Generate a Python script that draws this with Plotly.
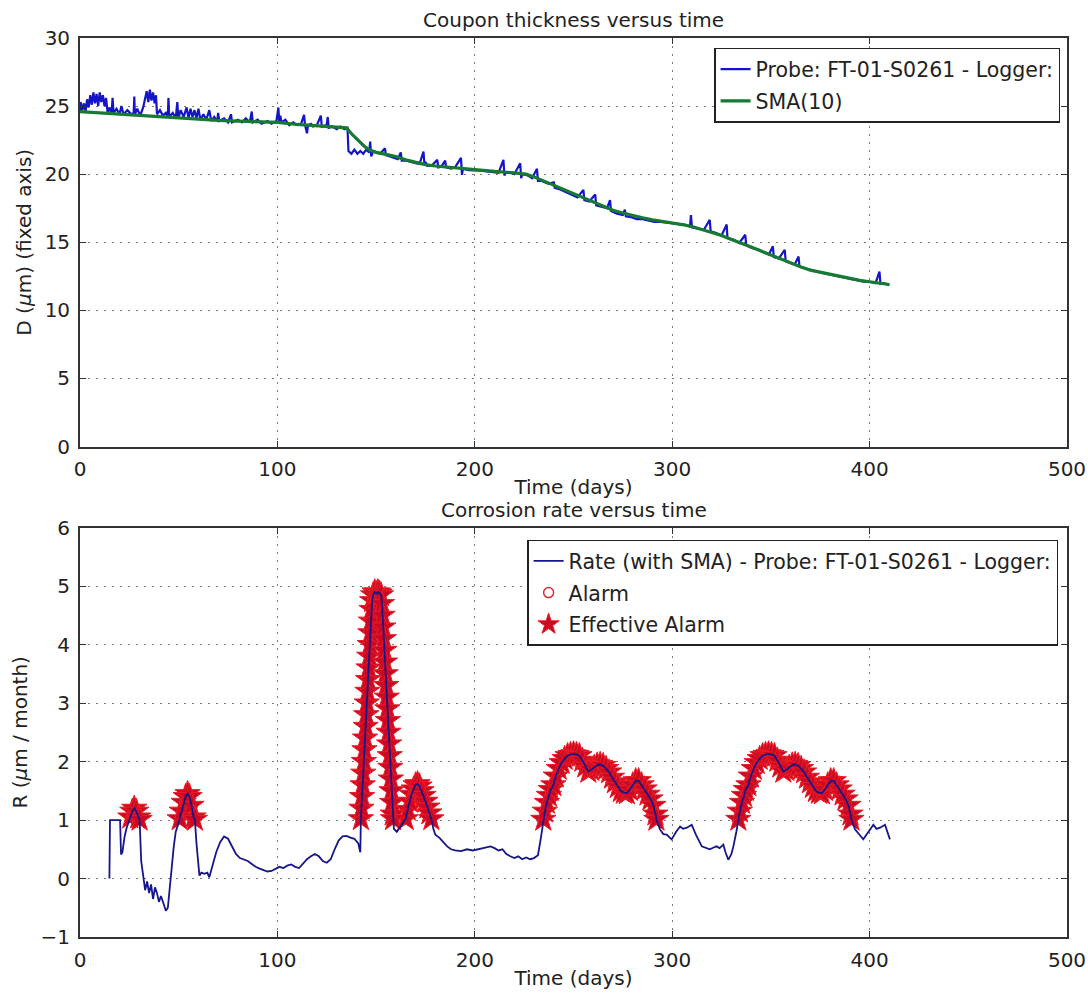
import plotly.graph_objects as go

# ---------------- data ----------------
probe_days = [0, 0.3, 1.2, 2.0, 2.8, 3.6, 4.4, 5.2, 6.0, 6.8, 7.6, 8.4, 9.2, 10.0, 10.8, 11.6,
              12.4, 13.2, 14.0, 15.0, 16.0, 16.5, 17.0, 18.5, 20.0, 21.0, 22.0, 24.0, 26.0,
              27.2, 27.5, 27.8, 29.0, 30.5, 32.0, 33.0, 33.8, 34.6, 35.4, 36.2, 37.0, 37.8,
              38.5, 39.0, 40.5, 42.0, 43.5, 44.5, 44.8, 45.2, 47.0, 48.5, 49.3, 49.8, 51.0,
              52.5, 54.0, 55.0, 56.0, 57.0, 58.0, 59.0, 60.0, 61.0, 62.5, 64.0, 65.5, 66.5,
              68.0, 69.5, 70.0, 70.5, 73.0, 75.0, 76.5, 77.0, 80.0, 82.0, 84.0, 86.0, 87.0,
              87.5, 90.0, 92.0, 95.0, 97.0, 99.5, 100.5, 101.0, 101.5, 102.0, 104.0, 106.0,
              108.0, 110.0, 112.0, 113.5, 114.0, 115.0, 115.5, 117.0, 118.0, 120.0, 122.0,
              122.5, 125.0, 125.5, 126.0, 128.0, 130.0, 132.0, 134.0, 135.5, 136.0, 137.5,
              139.0, 140.5, 142.0, 143.5, 145.0, 146.5, 147.0, 147.5, 148.5, 150.0, 152.0,
              154.5, 155.0, 157.0, 159.0, 161.0, 162.5, 163.0, 165.0, 167.0, 170.0, 172.0,
              174.0, 174.5, 175.0, 176.0, 178.0, 181.0, 181.5, 183.0, 185.0, 185.5, 188.0,
              190.0, 193.0, 193.5, 194.0, 197.0, 200.0, 203.0, 206.0, 209.0, 212.0, 214.5,
              215.0, 215.5, 218.0, 220.0, 223.0, 223.5, 224.0, 227.0, 229.0, 231.5, 232.0,
              234.0, 237.0, 240.0, 240.5, 243.0, 246.0, 249.0, 252.0, 255.0, 255.5, 258.0,
              261.0, 261.5, 264.0, 267.0, 268.5, 269.0, 272.0, 275.0, 276.0, 276.5, 279.0,
              282.0, 285.0, 288.0, 291.0, 294.0, 297.0, 300.0, 303.0, 306.0, 309.0, 309.5,
              310.0, 313.0, 316.0, 319.0, 319.5, 322.0, 325.0, 327.6, 328.0, 331.0, 334.0,
              337.0, 337.5, 340.0, 343.0, 346.0, 349.0, 351.0, 351.5, 354.0, 357.0, 357.5,
              360.0, 362.0, 364.0, 364.5, 367.0, 370.0, 373.0, 376.0, 379.0, 382.0, 385.0,
              388.0, 391.0, 394.0, 397.0, 400.0, 403.0, 405.0, 405.5, 407.0, 410.0]
probe_vals = [24.6, 25.3, 24.7, 25.2, 24.6, 25.5, 24.9, 25.8, 25.1, 26.0, 25.2, 25.9, 25.0, 26.0,
              25.3, 25.8, 25.0, 25.6, 24.5, 24.9, 24.4, 25.6, 24.5, 24.8, 24.4, 25.0, 24.4,
              24.7, 24.4, 24.5, 25.7, 24.4, 24.8, 24.3, 24.9, 25.6, 26.1, 25.3, 26.2, 25.4,
              26.0, 25.2, 25.8, 24.4, 24.7, 24.3, 24.5, 24.2, 25.6, 24.2, 24.5, 24.1, 25.3,
              24.1, 24.7, 24.2, 24.9, 24.1, 24.8, 24.2, 24.7, 24.1, 24.8, 24.0, 24.4, 24.0,
              24.7, 23.9, 24.2, 23.9, 24.5, 23.9, 24.1, 23.8, 24.4, 23.8, 24.0, 23.8, 24.1,
              23.8, 24.6, 23.8, 24.0, 23.7, 23.9, 23.7, 23.9, 24.9, 23.7, 24.3, 23.8, 24.0,
              23.6, 23.8, 23.6, 23.7, 24.35, 23.6, 23.0, 23.6, 23.7, 23.5, 23.6, 24.3, 23.5,
              23.6, 24.2, 23.4, 23.5, 23.3, 23.5, 23.3, 23.4, 21.7, 21.5, 21.8, 21.5, 21.7,
              21.5, 21.8, 21.6, 22.4, 21.3, 21.7, 21.6, 21.5, 21.9, 21.4, 21.3, 21.2, 21.1,
              21.6, 21.0, 21.0, 20.9, 20.8, 20.75, 21.66, 20.7, 20.9, 20.6, 20.6, 21.05, 20.5,
              20.55, 21.0, 20.5, 20.4, 20.5, 21.2, 19.95, 20.4, 20.3, 20.3, 20.25, 20.2,
              20.15, 20.1, 21.05, 19.9, 20.1, 20.1, 20.0, 20.8, 19.7, 20.0, 19.9, 19.7, 20.4,
              19.5, 19.5, 19.3, 19.4, 19.0, 18.9, 18.7, 18.5, 18.3, 18.85, 18.1, 18.0, 18.5,
              17.7, 17.6, 17.5, 18.1, 17.3, 17.1, 17.0, 17.4, 16.9, 16.85, 16.7, 16.7, 16.6,
              16.5, 16.5, 16.45, 16.4, 16.3, 16.3, 16.15, 17.0, 16.1, 16.0, 15.9, 16.65, 15.8,
              15.7, 15.5, 16.3, 15.3, 15.2, 14.95, 15.55, 14.8, 14.6, 14.5, 14.3, 14.1, 14.7,
              13.9, 13.8, 14.45, 13.6, 13.45, 13.35, 13.95, 13.2, 13.1, 12.95, 12.85, 12.75,
              12.65, 12.55, 12.45, 12.4, 12.3, 12.2, 12.1, 12.1, 12.0, 12.85, 11.95, 12.0, 11.85]

sma_days = [0, 10, 20, 30, 40, 50, 60, 70, 80, 90, 100, 110, 120, 130, 135, 138, 141, 144, 147,
            150, 155, 160, 165, 170, 175, 180, 190, 200, 210, 220, 226, 230, 235, 240, 245,
            250, 255, 260, 265, 270, 275, 280, 285, 290, 295, 300, 305, 310, 315, 320, 325,
            330, 335, 340, 345, 350, 355, 360, 365, 370, 375, 380, 385, 390, 395, 400, 405, 410]
sma_vals = [24.6, 24.5, 24.4, 24.35, 24.25, 24.15, 24.05, 23.95, 23.9, 23.85, 23.8, 23.65, 23.55,
            23.45, 23.4, 22.9, 22.45, 22.05, 21.75, 21.6, 21.45, 21.3, 21.05, 20.85, 20.7,
            20.6, 20.45, 20.3, 20.2, 20.1, 20.0, 19.8, 19.5, 19.2, 18.9, 18.6, 18.25, 17.95,
            17.65, 17.35, 17.15, 16.95, 16.8, 16.65, 16.55, 16.45, 16.3, 16.15, 15.95, 15.75,
            15.5, 15.2, 14.95, 14.65, 14.35, 14.05, 13.75, 13.45, 13.2, 12.95, 12.8, 12.6,
            12.45, 12.35, 12.2, 12.1, 12.0, 11.9]

rate_days = [14.9, 15.2, 20.3, 20.8, 21.5, 22.5, 23.5, 24.5, 25.5, 26.5, 27.5, 28.5, 29.5, 30.2,
             31.0, 32.0, 33.0, 34.0, 35.0, 36.0, 37.0, 38.0, 39.0, 40.0, 41.0, 42.5, 43.5,
             44.5, 45.5, 46.5, 47.5, 48.5, 49.5, 50.5, 51.5, 52.5, 53.5, 54.5, 55.5, 56.5,
             57.5, 58.2, 59.0, 60.5, 61.5, 63.0, 64.5, 65.5, 67.0, 69.0, 71.0, 73.0, 75.0,
             77.0, 79.0, 81.0, 83.0, 85.0, 87.0, 89.0, 91.0, 93.0, 95.0, 97.0, 99.0, 101.0,
             103.0, 105.0, 107.0, 109.0, 111.0, 113.0, 115.0, 117.0, 119.0, 121.0, 123.0,
             125.0, 127.0, 129.0, 131.0, 133.0, 135.0, 137.0, 139.0, 141.0, 142.0,
             142.3, 142.6, 142.9, 143.2, 143.5, 143.8, 144.1, 144.4, 144.7, 145.0, 145.3,
             145.6, 145.9, 146.2, 146.5, 146.8, 147.1, 147.4, 147.7, 148.0, 148.5, 149.3,
             150.1, 150.9, 151.7, 152.5, 153.0, 153.3, 153.6, 153.9, 154.2, 154.5, 154.8,
             155.1, 155.4, 155.7, 156.0, 156.3, 156.6, 156.9, 157.2, 157.5, 157.8, 158.1,
             158.4, 158.6, 159.0, 160.5, 162.0, 164.0, 165.0, 166.0, 167.0, 168.0, 169.0, 170.0,
             171.0, 172.0, 173.0, 174.0, 175.0, 176.0, 177.0, 178.0, 179.0, 180.0, 182.0,
             184.0, 186.0, 188.0, 190.0, 193.0, 196.0, 199.0, 202.0, 205.0, 208.0, 210.0,
             212.0, 214.0, 216.0, 218.0, 220.0, 222.0, 224.0, 226.0, 228.0, 230.0, 232.0,
             233.5, 234.7, 235.5, 236.5, 237.5, 238.5, 239.8, 241.0, 242.5, 244.0, 245.5,
             247.0, 248.5, 250.0, 251.5, 253.0, 254.5, 256.0, 257.5, 259.0, 260.5, 262.0,
             263.5, 265.0, 266.5, 268.0, 269.5, 271.0, 272.5, 274.0, 275.5, 277.0, 278.5,
             280.0, 281.5, 283.0, 284.5, 286.0, 287.5, 289.0, 290.5, 291.5, 292.0, 293.8,
             295.5, 297.2, 299.7, 302.0, 304.0, 305.5, 307.4, 309.9, 312.0, 315.0, 317.0,
             319.0, 321.0, 322.5, 324.0, 325.9, 327.0, 328.4, 330.0, 331.0, 332.5, 333.5,
             334.3, 335.3, 336.3, 337.3, 338.6, 339.8, 341.3, 342.8, 344.3, 345.8, 347.3,
             348.8, 350.3, 351.8, 353.3, 354.8, 356.3, 357.8, 359.3, 360.8, 362.3, 363.8,
             365.3, 366.8, 368.3, 369.8, 371.3, 372.8, 374.3, 375.8, 377.3, 378.8, 380.3,
             381.8, 383.3, 384.8, 386.3, 387.8, 389.3, 390.3, 390.8, 392.6, 394.5, 396.8,
             399.0, 401.9, 403.5, 405.3, 407.8, 410.3]
rate_vals = [0.0, 1.0, 1.0, 0.41, 0.45, 0.7, 0.85, 0.95, 1.05, 1.15, 1.2, 1.15, 1.05, 1.01,
             0.3, 0.05, -0.2, -0.05, -0.25, -0.1, -0.35, -0.15, -0.25, -0.4, -0.3, -0.45,
             -0.55, -0.5, -0.2, 0.2, 0.55, 0.8, 0.9, 1.02, 1.15, 1.3, 1.4, 1.45, 1.4, 1.25,
             1.05, 1.01, 0.6, 0.05, 0.1, 0.08, 0.1, 0.02, 0.2, 0.45, 0.62, 0.72, 0.68, 0.55,
             0.42, 0.35, 0.33, 0.3, 0.25, 0.2, 0.17, 0.15, 0.12, 0.13, 0.17, 0.2, 0.18, 0.22,
             0.24, 0.2, 0.18, 0.25, 0.33, 0.38, 0.42, 0.38, 0.3, 0.27, 0.33, 0.5, 0.65, 0.72,
             0.73, 0.7, 0.68, 0.6, 0.45,
             1.02, 1.2, 1.4, 1.6, 1.8, 2.0, 2.2, 2.4, 2.6, 2.8, 3.0,
             3.2, 3.4, 3.6, 3.8, 4.0, 4.2, 4.4, 4.6, 4.75, 4.85, 4.9,
             4.87, 4.9, 4.88, 4.85, 4.7, 4.5, 4.3, 4.1, 3.9, 3.7, 3.5,
             3.3, 3.1, 2.9, 2.7, 2.5, 2.3, 2.1, 1.9, 1.7, 1.5, 1.3,
             1.1, 1.02, 0.85, 0.8, 0.88, 0.97, 1.02, 1.18, 1.32, 1.44, 1.53, 1.6,
             1.62, 1.58, 1.5, 1.42,
             1.32, 1.22, 1.12, 1.02, 0.85, 0.75, 0.7, 0.62, 0.55, 0.5, 0.48, 0.47, 0.5, 0.48,
             0.5, 0.52, 0.55, 0.52, 0.48, 0.5, 0.42, 0.38, 0.35, 0.38, 0.33, 0.36, 0.33, 0.35,
             0.4, 0.7, 1.01, 1.15, 1.3, 1.42, 1.52, 1.6, 1.75, 1.88, 1.98, 2.05, 2.1, 2.12,
             2.13, 2.12, 2.1, 2.02, 1.92, 1.83, 1.86, 1.9, 1.94, 1.95, 1.93, 1.88, 1.82, 1.73,
             1.65, 1.57, 1.5, 1.47, 1.46, 1.52, 1.6, 1.67, 1.67, 1.6, 1.53, 1.44, 1.36, 1.25,
             1.1, 1.01, 0.84, 0.76, 0.75, 0.67, 0.8, 0.89, 0.85, 0.87, 0.92, 0.75, 0.55, 0.52,
             0.5, 0.53, 0.55, 0.52, 0.58, 0.45, 0.32, 0.42, 0.55, 0.8, 1.01, 1.15, 1.3, 1.42,
             1.52, 1.6, 1.75, 1.88, 1.98, 2.05, 2.1, 2.12, 2.13, 2.12, 2.1, 2.02, 1.92, 1.83,
             1.86, 1.9, 1.94, 1.95, 1.93, 1.88, 1.82, 1.73, 1.65, 1.57, 1.5, 1.47, 1.46, 1.52,
             1.6, 1.67, 1.67, 1.6, 1.53, 1.44, 1.36, 1.25, 1.1, 1.01, 0.84, 0.76, 0.67, 0.78,
             0.92, 0.85, 0.87, 0.92, 0.67]

ALARM_THRESHOLD = 1.0  # R above this value raises an alarm

x_ticks = [0, 100, 200, 300, 400, 500]
d_ticks = [0, 5, 10, 15, 20, 25, 30]
r_ticks = [-1, 0, 1, 2, 3, 4, 5, 6]

# alarm points are the rate samples above the threshold
alarm_days = [d for d, v in zip(rate_days, rate_vals) if v > ALARM_THRESHOLD]
alarm_vals = [v for v in rate_vals if v > ALARM_THRESHOLD]

FONT = "DejaVu Sans"
FS = 20
LFS = 20.5

fig = go.Figure()

fig.add_trace(go.Scatter(
    x=probe_days, y=probe_vals, mode="lines", name="Probe: FT-01-S0261 - Logger:",
    line=dict(color="#1414c8", width=2.2), xaxis="x", yaxis="y", legend="legend",
    legendgroup="a"))
fig.add_trace(go.Scatter(
    x=sma_days, y=sma_vals, mode="lines", name="SMA(10)",
    line=dict(color="#177a33", width=3.2), xaxis="x", yaxis="y", legend="legend",
    legendgroup="b"))

fig.add_trace(go.Scatter(
    x=alarm_days, y=alarm_vals, mode="markers", name="Alarm",
    marker=dict(symbol="circle-open", size=10, color="#d03030", line=dict(width=1.5)),
    xaxis="x2", yaxis="y2", legend="legend2", legendgroup="d"))
fig.add_trace(go.Scatter(
    x=alarm_days, y=alarm_vals, mode="markers", name="Effective Alarm",
    marker=dict(symbol="star", size=19, color="#c80a24", line=dict(color="#ee1c24", width=1)),
    xaxis="x2", yaxis="y2", legend="legend2", legendgroup="e"))
fig.add_trace(go.Scatter(
    x=rate_days, y=rate_vals, mode="lines", name="Rate (with SMA) - Probe: FT-01-S0261 - Logger:",
    line=dict(color="#16168a", width=1.8), xaxis="x2", yaxis="y2", legend="legend2",
    legendgroup="c", legendrank=1))

axis_common = dict(
    showline=True, linecolor="#333333", linewidth=1.8, mirror="allticks",
    ticks="inside", ticklen=6, tickcolor="#333333", tickwidth=1,
    showgrid=True, gridcolor="#7a7a7a", gridwidth=1, griddash="2px,6px",
    zeroline=False, tickfont=dict(family=FONT, size=FS, color="#222222"),
    ticklabelstandoff=4, automargin=False,
)

title_font = dict(family=FONT, size=FS, color="#222222")

fig.update_layout(
    width=1088, height=993,
    margin=dict(l=80, r=21, t=38, b=55.5),
    paper_bgcolor="white", plot_bgcolor="white",
    font=dict(family=FONT, size=FS, color="#222222"),
    xaxis=dict(domain=[0, 1], anchor="y", range=[0, 500], tickvals=x_ticks,
               title=dict(text="Time (days)", font=title_font, standoff=0), **axis_common),
    yaxis=dict(domain=[0.5456, 1], anchor="x", range=[0, 30], tickvals=d_ticks,
               title=dict(text="D (<i>μ</i>m) (fixed axis)", font=title_font, standoff=8),
               **axis_common),
    xaxis2=dict(domain=[0, 1], anchor="y2", range=[0, 500], tickvals=x_ticks,
                title=dict(text="Time (days)", font=title_font, standoff=0), **axis_common),
    yaxis2=dict(domain=[0, 0.4553], anchor="x2", range=[-1, 6], tickvals=r_ticks,
                title=dict(text="R (<i>μ</i>m / month)", font=title_font, standoff=8),
                **axis_common),
    legend=dict(x=0.993, y=0.989, xanchor="right", yanchor="top",
                bordercolor="#222222", borderwidth=1.5, bgcolor="white",
                font=dict(family=FONT, size=LFS), traceorder="grouped", tracegroupgap=2,
                itemwidth=30),
    legend2=dict(x=0.991, y=0.442, xanchor="right", yanchor="top",
                 bordercolor="#222222", borderwidth=1.5, bgcolor="white",
                 font=dict(family=FONT, size=LFS), traceorder="grouped", tracegroupgap=2,
                 itemwidth=30),
    showlegend=True,
    annotations=[
        dict(text="Coupon thickness versus time", xref="x domain", yref="y domain",
             x=0.5, y=1, xanchor="center", yanchor="bottom", yshift=4, showarrow=False,
             font=title_font),
        dict(text="Corrosion rate versus time", xref="x2 domain", yref="y2 domain",
             x=0.5, y=1, xanchor="center", yanchor="bottom", yshift=4, showarrow=False,
             font=title_font),
    ],
)

# remove the page's default body margin so the figure fills the window exactly
fig.write_html(
    "out.html",
    config={"displayModeBar": False},
    post_script="document.body.style.margin='0';document.body.style.overflow='hidden';",
)
